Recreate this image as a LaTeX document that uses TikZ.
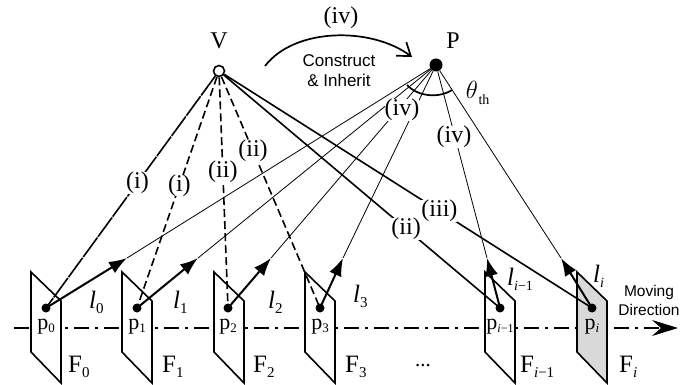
\documentclass[tikz,border=0pt]{standalone}
\usepackage{fontspec}
\setmainfont{Liberation Serif}
\setsansfont{Liberation Sans}
\usetikzlibrary{arrows.meta}

\begin{document}
\begin{tikzpicture}[
  x=1pt,y=-1pt,
  font=\fontsize{24}{26}\selectfont,
  framebox/.style={draw,line width=1.6pt,line join=miter},
  ptdot/.style={circle,fill=black,inner sep=0pt,minimum size=9pt},
  viewline/.style={line width=1.6pt,dash pattern=on 8pt off 4pt},
  longline/.style={line width=1.6pt,dash pattern=on 24pt off 1pt},
  seenline/.style={line width=1.6pt},
  ptline/.style={line width=.8pt},
  ar/.style={line width=2pt,-{Latex[length=18pt,width=13pt]}},
  lbl/.style={fill=white,inner sep=0pt},
  flbl/.style={anchor=base west,inner sep=0pt,font=\fontsize{25}{27}\selectfont},
  plbl/.style={inner sep=0pt,font=\fontsize{22}{24}\selectfont},
  llbl/.style={anchor=base west,inner sep=0pt,font=\fontsize{25}{27}\selectfont\itshape},
  sans/.style={font=\fontsize{17}{20}\selectfont\sffamily,align=center,inner sep=0pt}
]
\useasboundingbox (0,0) rectangle (680,385);

% moving direction axis
\coordinate (axisL) at (14,328);
\coordinate (axisR) at (678,328);
\draw[line width=1.6pt,dash pattern=on 15pt off 6pt on 3pt off 6pt,-{Stealth[length=26pt,width=16pt,inset=9pt]}] (axisL) -- (axisR);

% frames
\foreach \xx/\fcol in {31/white,122/white,214/white,305/white,485/white,577/black!15}{
  \draw[framebox,fill=\fcol] (\xx,272) -- ++(30,29) -- ++(0,82) -- ++(-30,-31) -- cycle;
}

% points
\node[ptdot] (p0) at (46,308) {};
\node[ptdot] (p1) at (137,308) {};
\node[ptdot] (p2) at (228,308) {};
\node[ptdot] (p3) at (320,308) {};
\node[ptdot] (pm) at (500,308) {};
\node[ptdot] (pi) at (592,308) {};
\node[circle,draw,line width=1.6pt,fill=white,inner sep=0pt,minimum size=11pt] (V) at (219,71) {};
\node[ptdot,minimum size=13pt] (P) at (436,65) {};

\node[inner sep=0pt] (Vname) at (219,41) {V};
\node[inner sep=0pt] (Pname) at (453,41) {P};

% rays from V
\draw[longline] (V) -- node[lbl,pos=.46] (v0) {(i)} (p0.center);
\draw[viewline] (V) -- node[lbl,pos=.47] (v1) {(i)} (p1.center);
\draw[viewline] (V) -- node[lbl,pos=.41] (v2) {(ii)} (p2.center);
\draw[viewline] (V) -- node[lbl,pos=.32] (v3) {(ii)} (p3.center);
\draw[seenline] (V) -- node[lbl,pos=.66] (vm) {(ii)} (pm.center);
\draw[seenline] (V) -- node[lbl,pos=.585] (vi) {(iii)} (pi.center);

% rays to P
\foreach \nm/\tx in {0/127,1/198,2/271,3/343,m/487,i/561}{
  \coordinate (t\nm) at (\tx,258);
  \draw[ptline] (t\nm) -- (P);
  \draw[ar] (p\nm.center) -- (t\nm);
}

\node[lbl] (ivA) at (402,110) {(iv)};
\node[lbl] (ivB) at (454,137) {(iv)};

% threshold arc
\coordinate (arcL) at (407,85);
\coordinate (arcR) at (452,90);
\draw[line width=1.7pt] (arcL) .. controls (417,96) and (438,99) .. (arcR);
\node[inner sep=0pt] (theta) at (472,90) {$\theta$};
\node[inner sep=0pt,font=\fontsize{14}{16}\selectfont] (thsub) at (484,100) {th};

% construct arrow
\coordinate (cA) at (265,66);
\coordinate (cB) at (412,57);
\draw[line width=1.7pt,-{Straight Barb[length=12pt,width=17pt]}] (cA) .. controls (295,27) and (372,27) .. (cB);
\node[inner sep=0pt] (ivC) at (341,18) {(iv)};
\node[sans] (build) at (339,71) {Construct\\\& Inherit};

% frame labels
\foreach \nm/\xx/\txt in {0/46/0,1/137/1,2/228/2,3/320/3,i/592/{\itshape i}}{
  \node[plbl] (pl\nm) at (\xx,327) {p\raisebox{-3pt}{\fontsize{13}{15}\selectfont\txt}};
}
\node[plbl] (plm) at (500,327) {p\raisebox{-3pt}{\fontsize{12}{14}\selectfont\itshape i\textup{−1}}};

\foreach \nm/\xx/\txt in {0/68/0,1/162/1,2/253/2,3/345/3,i/619/{\itshape i}}{
  \node[flbl] (F\nm) at (\xx,372) {F\raisebox{-5pt}{\fontsize{15}{17}\selectfont\txt}};
}
\node[flbl] (Fm) at (520,372) {F\raisebox{-5pt}{\fontsize{15}{17}\selectfont\itshape i\textup{−1}}};
\node[anchor=base,inner sep=0pt,font=\fontsize{21}{23}\selectfont] (dots) at (423,366) {...};

\foreach \nm/\xx/\yy/\txt in {0/89/308/0,1/173/308/1,2/268/308/2,3/353/302/3}{
  \node[llbl] (l\nm) at (\xx,\yy) {l\raisebox{-5pt}{\fontsize{15}{17}\selectfont\upshape\txt}};
}
\node[llbl] (lm) at (507,285) {l\raisebox{-5pt}{\fontsize{14}{16}\selectfont i\textup{−1}}};
\node[llbl] (li) at (593,282) {l\raisebox{-5pt}{\fontsize{14}{16}\selectfont i}};

\node[sans,font=\fontsize{15.5}{19}\selectfont\sffamily] (move) at (649,300) {Moving\\Direction};
\end{tikzpicture}
\end{document}
